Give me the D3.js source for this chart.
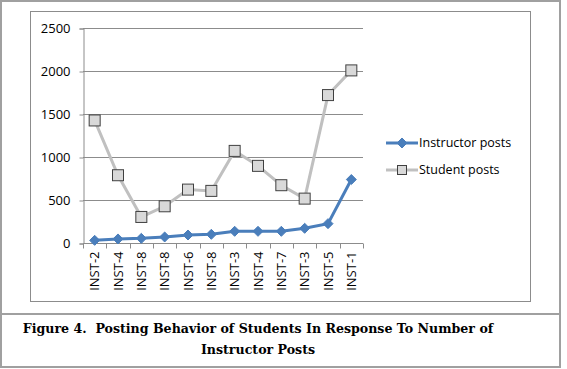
<!DOCTYPE html>
<html>
<head>
<meta charset="utf-8">
<script src="https://cdn.jsdelivr.net/npm/d3@7"></script>
<style>
  body { margin: 0; background: #fff; }
  svg { display: block; }
</style>
</head>
<body>
<svg id="chart"></svg>
<script>
var categories = ['INST-2', 'INST-4', 'INST-8', 'INST-8', 'INST-6', 'INST-8', 'INST-3', 'INST-4', 'INST-7', 'INST-3', 'INST-5', 'INST-1'];
var instructorPosts = [31, 47, 54, 70, 93, 101, 136, 136, 136, 171, 225, 738];
var studentPosts = [1425, 788, 303, 427, 621, 606, 1071, 897, 672, 516, 1720, 2007];
var yTicks = [0, 500, 1000, 1500, 2000, 2500];
var seriesNames = ['Instructor posts', 'Student posts'];
var captionLines = ['Figure 4.  Posting Behavior of Students In Response To Number of', 'Instructor Posts'];

var W = 567, H = 369;
var svg = d3.select('#chart').attr('width', W).attr('height', H);

// outer frame + caption divider
svg.append('rect').attr('x', 1).attr('y', 1).attr('width', W - 8).attr('height', H - 3)
  .attr('fill', 'none').attr('stroke', '#a0a0a0').attr('stroke-width', 2);
svg.append('line').attr('x1', 1).attr('x2', W - 7).attr('y1', 314).attr('y2', 314)
  .attr('stroke', '#a0a0a0').attr('stroke-width', 2);
// chart box
svg.append('rect').attr('x', 30.5).attr('y', 11.5).attr('width', 500).attr('height', 290)
  .attr('fill', 'none').attr('stroke', '#8c8c8c').attr('stroke-width', 1);

var plot = { left: 83, right: 363, top: 28, bottom: 243 };

var x = d3.scaleBand().domain(d3.range(categories.length)).range([plot.left, plot.right]);
var y = d3.scaleLinear().domain([0, 2500]).range([plot.bottom, plot.top]);

var g = svg.append('g');

// gridlines
g.selectAll('.grid').data(yTicks.slice(1)).enter().append('line')
  .attr('x1', plot.left).attr('x2', plot.right)
  .attr('y1', function (d) { return Math.round(y(d)) + 0.5; })
  .attr('y2', function (d) { return Math.round(y(d)) + 0.5; })
  .attr('stroke', '#8c8c8c').attr('stroke-width', 1);

// y axis
var yAxis = g.append('g').attr('transform', 'translate(' + (plot.left + 0.5) + ',0.5)')
  .call(d3.axisLeft(y).tickValues(yTicks).tickSize(4).tickFormat(d3.format('d')));
yAxis.select('.domain').attr('stroke', '#8c8c8c');
yAxis.selectAll('.tick line').attr('stroke', '#8c8c8c');
yAxis.selectAll('.tick text').attr('font-family', 'Open Sans, Liberation Sans, sans-serif')
  .attr('font-size', 13).attr('fill', '#000').attr('x', -13);

// x axis
var xAxis = g.append('g').attr('transform', 'translate(0,' + (plot.bottom + 0.5) + ')');
xAxis.append('line').attr('x1', plot.left).attr('x2', plot.right).attr('stroke', '#8c8c8c');
xAxis.selectAll('.xt').data(d3.range(categories.length + 1)).enter().append('line')
  .attr('x1', function (i) { return Math.round(plot.left + i * x.step()) + 0.5; })
  .attr('x2', function (i) { return Math.round(plot.left + i * x.step()) + 0.5; })
  .attr('y1', 0).attr('y2', 5).attr('stroke', '#8c8c8c');
xAxis.selectAll('.xl').data(categories).enter().append('text')
  .attr('transform', function (d, i) {
    return 'translate(' + (x(i) + x.bandwidth() / 2 + 4.5) + ',8) rotate(-90)';
  })
  .attr('text-anchor', 'end')
  .attr('font-family', 'Open Sans, Liberation Sans, sans-serif')
  .attr('font-size', 13).attr('fill', '#000')
  .text(function (d) { return d; });

var cx = function (d, i) { return x(i) + x.bandwidth() / 2; };
var line = d3.line().x(function (d, i) { return x(i) + x.bandwidth() / 2; }).y(function (d) { return y(d); });

// student posts
g.append('path').datum(studentPosts).attr('d', line)
  .attr('fill', 'none').attr('stroke', '#c0c0c0').attr('stroke-width', 3);
g.selectAll('.sq').data(studentPosts).enter().append('rect')
  .attr('x', function (d, i) { return cx(d, i) - 5.5; })
  .attr('y', function (d) { return y(d) - 5.5; })
  .attr('width', 11).attr('height', 11)
  .attr('fill', '#d9d9d9').attr('stroke', '#404040').attr('stroke-width', 1);

// instructor posts
g.append('path').datum(instructorPosts).attr('d', line)
  .attr('fill', 'none').attr('stroke', '#4a7ebb').attr('stroke-width', 3);
var diamond = d3.symbol().type(d3.symbolDiamond2).size(64);
g.selectAll('.dm').data(instructorPosts).enter().append('path')
  .attr('d', diamond)
  .attr('transform', function (d, i) { return 'translate(' + cx(d, i) + ',' + y(d) + ')'; })
  .attr('fill', '#4a7ebb').attr('stroke', '#4a7ebb').attr('stroke-width', 1);

// legend
var legend = svg.append('g').attr('transform', 'translate(386,0)');
var ly = [143, 170];
legend.selectAll('.ll').data(seriesNames).enter().append('line')
  .attr('x1', 0).attr('x2', 32)
  .attr('y1', function (d, i) { return ly[i]; }).attr('y2', function (d, i) { return ly[i]; })
  .attr('stroke', function (d, i) { return i === 0 ? '#4a7ebb' : '#c0c0c0'; })
  .attr('stroke-width', 3);
legend.append('path').attr('d', diamond).attr('transform', 'translate(16,' + ly[0] + ')')
  .attr('fill', '#4a7ebb').attr('stroke', '#4a7ebb');
legend.append('rect').attr('x', 11.5).attr('y', ly[1] - 4.5).attr('width', 9).attr('height', 9)
  .attr('fill', '#d9d9d9').attr('stroke', '#404040');
legend.selectAll('.lt').data(seriesNames).enter().append('text')
  .attr('x', 33).attr('y', function (d, i) { return ly[i]; }).attr('dy', '0.35em')
  .attr('font-family', 'Open Sans, Liberation Sans, sans-serif')
  .attr('font-size', 12.5).attr('fill', '#000')
  .text(function (d) { return d; });

// caption
svg.selectAll('.cap').data(captionLines).enter().append('text')
  .attr('x', 258).attr('y', function (d, i) { return 333 + i * 21; })
  .attr('text-anchor', 'middle')
  .style('white-space', 'pre')
  .attr('font-family', 'DejaVu Serif, serif').attr('font-weight', 'bold')
  .attr('font-size', 12.6).attr('fill', '#000')
  .text(function (d) { return d; });
</script>
</body>
</html>
